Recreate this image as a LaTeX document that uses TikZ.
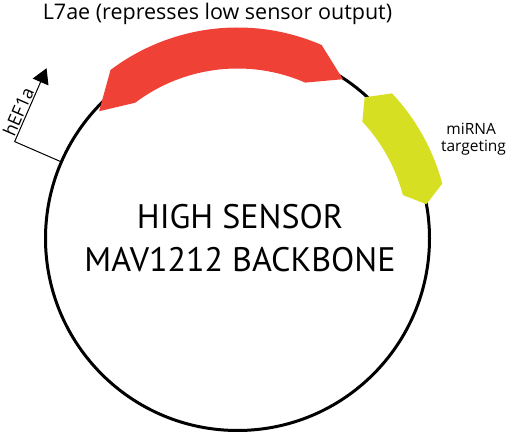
\documentclass[tikz,border=0pt]{standalone}
\usepackage{fontspec}
\setmainfont{PT Sans}
\newfontfamily\labelfont{Open Sans}
\usetikzlibrary{arrows.meta,calc}
\definecolor{featred}{RGB}{239,65,54}
\definecolor{featyel}{RGB}{215,223,35}
\begin{document}
\begin{tikzpicture}[x=1pt,y=1pt,
  backbone/.style={line width=3pt,draw=black},
  promoter/.style={line width=1pt,draw=black,-{Triangle[length=15pt,width=17pt]}},
  bigtext/.style={font=\fontsize{34}{41}\selectfont,anchor=base,inner sep=0pt},
  titletext/.style={font=\labelfont\fontsize{21.5}{26}\selectfont,anchor=base,inner sep=0pt},
  smalltext/.style={font=\labelfont\fontsize{15.5}{19}\selectfont,anchor=base,inner sep=0pt}]
\useasboundingbox (0,0) rectangle (509,435);
\coordinate (C) at (237.5,196.5);
\draw[backbone] (C) circle[radius=192];
% L7ae feature
\fill[featred] ($(C)+(127:211)$) arc[start angle=127,end angle=66.5,radius=211]
  -- ($(C)+(56.5:191)$) -- ($(C)+(66.5:170)$)
  arc[start angle=66.5,end angle=127,radius=170]
  -- ($(C)+(137.4:188)$) -- cycle;
% miRNA targeting feature
\fill[featyel] ($(C)+(43.2:212)$) arc[start angle=43.2,end angle=15,radius=212]
  -- ($(C)+(10.3:192)$) -- ($(C)+(14.7:171)$)
  arc[start angle=14.7,end angle=43.1,radius=171]
  -- ($(C)+(48:190)$) -- cycle;
% promoter
\coordinate (p0) at ($(C)+(156.5:192)$);
\coordinate (p1) at ($(C)+(156.5:243)$);
\coordinate (p2) at ($(p1)+(66.5:80)$);
\draw[promoter] (p0) -- (p1) -- (p2);
\path (p1) -- (p2) node[pos=0.36,sloped,above,font=\labelfont\fontsize{18}{21}\selectfont,inner sep=1.5pt] (hef) {hEF1a};
% texts
\node[titletext] (title) at (217.5,415.5) {L7ae (represses low sensor output)};
\node[bigtext] (l1) at (240,206) {HIGH SENSOR};
\node[bigtext] (l2) at (240,163) {MAV1212 BACKBONE};
\node[smalltext] (mi) at (471.2,300.7) {miRNA};
\node[smalltext] (tg) at (473.5,283.5) {targeting};
\end{tikzpicture}
\end{document}
